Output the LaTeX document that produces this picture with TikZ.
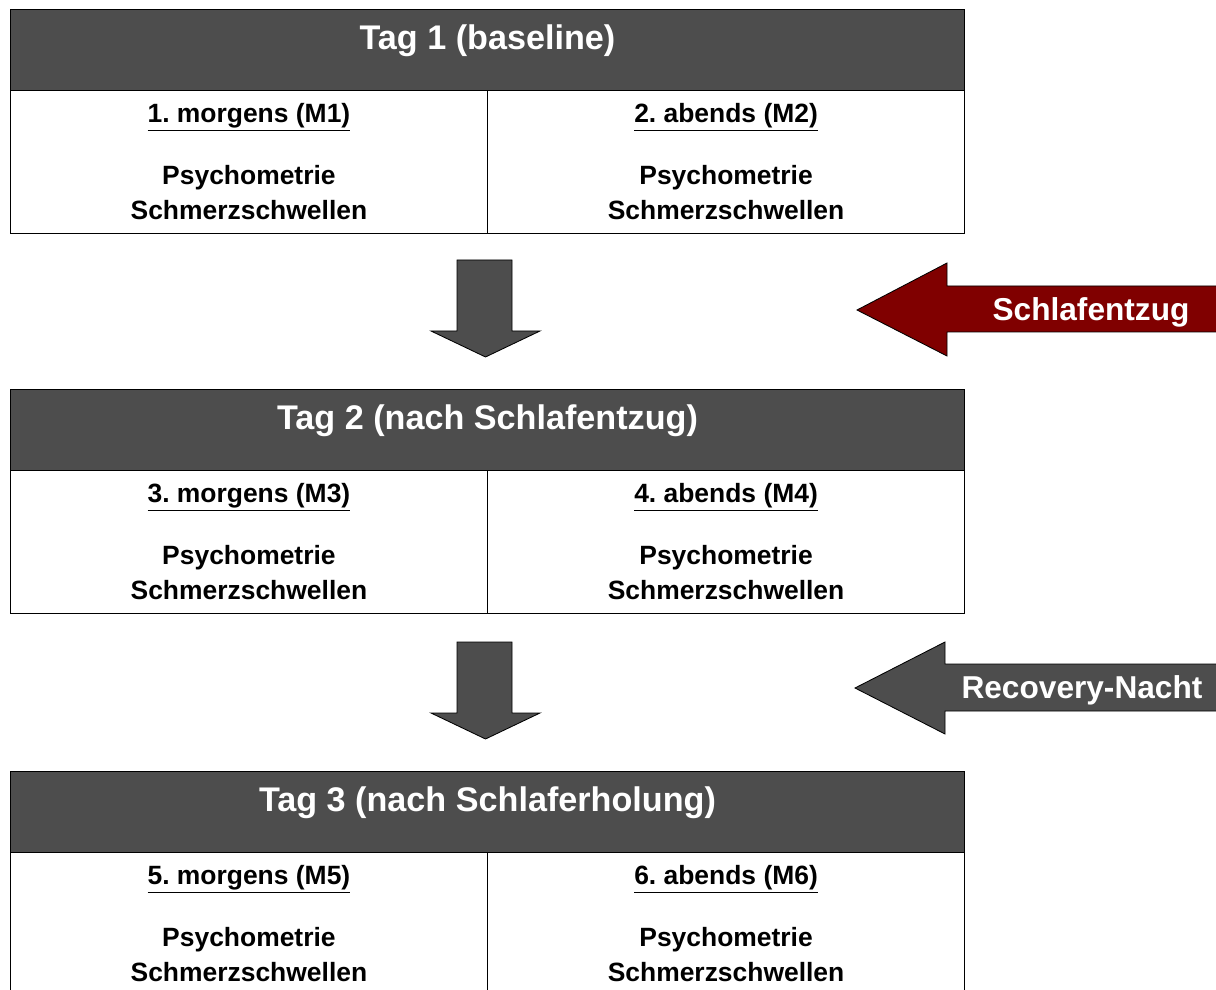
\documentclass[tikz,border=0pt]{standalone}
\usepackage{fontspec}
\setmainfont{Liberation Sans}
\usepackage{xcolor}
\usetikzlibrary{positioning}
\frenchspacing
\definecolor{headgray}{RGB}{77,77,77}
\definecolor{sleepred}{RGB}{128,0,0}
\tikzset{
  dayhead/.style={
    rectangle,
    draw=black,
    line width=0.6pt,
    fill=headgray,
    minimum width=23.85cm,
    minimum height=2.025cm,
    inner sep=0pt,
    outer sep=0pt
  },
  headtext/.style={
    text=white,
    font=\bfseries\fontsize{24.3}{29}\selectfont
  },
  slot/.style={
    rectangle,
    draw=black,
    line width=0.6pt,
    fill=white,
    minimum width=11.925cm,
    minimum height=3.575cm,
    outer sep=0pt,
    align=center,
    font=\bfseries\fontsize{18.8}{24.9}\selectfont
  },
  blockarrow/.style={
    draw=black,
    line width=0.6pt,
    fill=headgray
  },
  arrowtext/.style={
    text=white,
    font=\bfseries\fontsize{22.5}{27}\selectfont
  }
}

\begin{document}
\begin{tikzpicture}[x=0.025cm, y=-0.025cm]

\clip (0,0) rectangle (1216,990);

% Tag 1
\node[dayhead] (tag1) at (487.5,49.5) {};
\node[headtext] (tag1title) at ([yshift=-0.8cm]tag1.north) {Tag 1 (baseline)};
\node[slot, below right=0pt of tag1.south west] (m1) {\underline{1. morgens (M1)}\\[19.2pt]Psychometrie\\Schmerzschwellen};
\node[slot, right=0pt of m1] (m2) {\underline{2. abends (M2)}\\[19.2pt]Psychometrie\\Schmerzschwellen};

% Tag 2
\node[dayhead] (tag2) at (487.5,429.5) {};
\node[headtext] (tag2title) at ([yshift=-0.8cm]tag2.north) {Tag 2 (nach Schlafentzug)};
\node[slot, below right=0pt of tag2.south west] (m3) {\underline{3. morgens (M3)}\\[19.2pt]Psychometrie\\Schmerzschwellen};
\node[slot, right=0pt of m3] (m4) {\underline{4. abends (M4)}\\[19.2pt]Psychometrie\\Schmerzschwellen};

% Tag 3
\node[dayhead] (tag3) at (487.5,811.5) {};
\node[headtext] (tag3title) at ([yshift=-0.8cm]tag3.north) {Tag 3 (nach Schlaferholung)};
\node[slot, below right=0pt of tag3.south west] (m5) {\underline{5. morgens (M5)}\\[19.2pt]Psychometrie\\Schmerzschwellen};
\node[slot, right=0pt of m5] (m6) {\underline{6. abends (M6)}\\[19.2pt]Psychometrie\\Schmerzschwellen};

% down arrows
\coordinate (down1) at (457,260);
\coordinate (down2) at (457,642);
\draw[blockarrow] (down1) -- ++(55,0) -- ++(0,71) -- ++(28,0) -- ++(-54.5,26) -- ++(-54.5,-26) -- ++(26,0) -- cycle;
\draw[blockarrow] (down2) -- ++(55,0) -- ++(0,71) -- ++(28,0) -- ++(-54.5,26) -- ++(-54.5,-26) -- ++(26,0) -- cycle;

% side arrows
\coordinate (deprtip) at (857,310);
\coordinate (recotip) at (855,688);
\draw[blockarrow, fill=sleepred] (deprtip) -- ++(90,-47) -- ++(0,23) -- ++(290,0) -- ++(0,46) -- ++(-290,0) -- ++(0,24) -- cycle;
\draw[blockarrow] (recotip) -- ++(90,-46) -- ++(0,22) -- ++(290,0) -- ++(0,47) -- ++(-290,0) -- ++(0,23) -- cycle;
\node[arrowtext] (depr) at (1091,312) {Schlafentzug};
\node[arrowtext] (reco) at (1082,690) {Recovery-Nacht};

\end{tikzpicture}
\end{document}
